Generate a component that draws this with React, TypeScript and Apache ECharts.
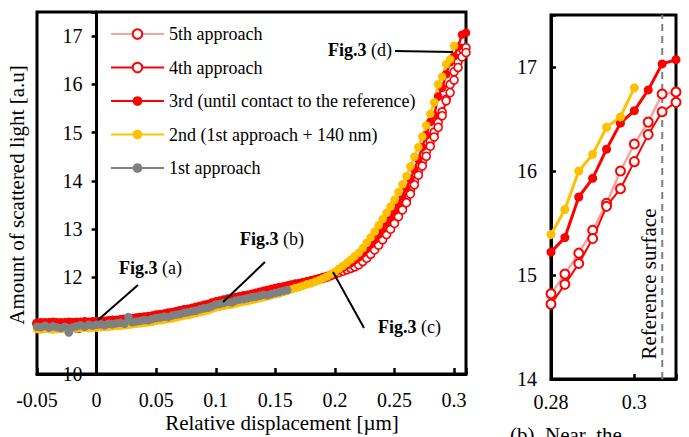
import React, { useEffect, useRef } from "react";
import * as echarts from "echarts";

const FONT = '"Liberation Serif", "Times New Roman", serif';

// Sample grid: x = X_START + i * X_STEP (µm)
const X_START = -0.05;
const X_STEP = 1 / 300;

const legendNames = [
  "5th approach",
  "4th approach",
  "3rd (until contact to the reference)",
  "2nd (1st approach + 140 nm)",
  "1st approach",
];

const mainXTicks = { min: -0.05, max: 0.31, interval: 0.05 };
const mainYTicks = { min: 10, max: 17.5, interval: 1 };
const zoomXTicks = { min: 0.28, max: 0.31, interval: 0.02 };
const zoomYTicks = { min: 14, max: 17.5, interval: 1 };
const referenceSurfaceX = 0.3067;

const approach5 = [
  11.05, 11.06, 11.05, 11.06, 11.07, 11.06, 11.05, 11.06, 11.07, 11.06, 11.07, 11.07, 11.08, 11.07, 11.08, 11.08,
  11.09, 11.09, 11.10, 11.11, 11.11, 11.12, 11.13, 11.14, 11.15, 11.16, 11.17, 11.18, 11.19, 11.20, 11.22,
  11.23, 11.24, 11.26, 11.27, 11.29, 11.31, 11.33, 11.34, 11.36, 11.38, 11.40, 11.42, 11.44, 11.47, 11.49,
  11.51, 11.53, 11.55, 11.56, 11.58, 11.60, 11.62, 11.63, 11.65, 11.67, 11.69, 11.71, 11.73, 11.75, 11.77,
  11.79, 11.80, 11.82, 11.84, 11.86, 11.87, 11.89, 11.91, 11.93, 11.95, 11.97, 11.99, 12.02, 12.05, 12.08,
  12.11, 12.14, 12.18, 12.22, 12.26, 12.30, 12.37, 12.45, 12.53, 12.62, 12.72, 12.82, 12.94, 13.06, 13.18,
  13.32, 13.47, 13.62, 13.81, 14.00, 14.20, 14.40, 14.61, 14.82,
  15.01, 15.21, 15.43, 15.69, 16.00, 16.26, 16.47, 16.74, 16.76,
];

const approach4 = [
  11.04, 11.05, 11.04, 11.05, 11.06, 11.05, 11.04, 11.05, 11.06, 11.05, 11.06, 11.06, 11.07, 11.06, 11.07, 11.07,
  11.08, 11.08, 11.09, 11.10, 11.10, 11.11, 11.12, 11.13, 11.14, 11.15, 11.16, 11.17, 11.18, 11.19, 11.21,
  11.22, 11.23, 11.25, 11.26, 11.28, 11.30, 11.32, 11.33, 11.35, 11.37, 11.39, 11.41, 11.43, 11.46, 11.48,
  11.50, 11.52, 11.54, 11.55, 11.57, 11.59, 11.61, 11.62, 11.64, 11.66, 11.68, 11.70, 11.72, 11.74, 11.76,
  11.78, 11.79, 11.81, 11.83, 11.85, 11.86, 11.88, 11.90, 11.92, 11.94, 11.96, 11.98, 12.01, 12.04, 12.07,
  12.10, 12.13, 12.16, 12.19, 12.22, 12.26, 12.33, 12.40, 12.48, 12.57, 12.67, 12.78, 12.89, 13.00, 13.12,
  13.26, 13.40, 13.55, 13.73, 13.92, 14.12, 14.31, 14.51, 14.72,
  14.91, 15.11, 15.35, 15.66, 15.83, 16.09, 16.35, 16.57, 16.66,
];

const approach3 = [
  11.06, 11.05, 11.07, 11.06, 11.05, 11.06, 11.07, 11.06, 11.06, 11.07, 11.06, 11.07, 11.08, 11.07, 11.08, 11.08,
  11.09, 11.09, 11.10, 11.11, 11.11, 11.12, 11.13, 11.14, 11.15, 11.16, 11.17, 11.18, 11.19, 11.20, 11.22,
  11.23, 11.24, 11.26, 11.27, 11.29, 11.31, 11.33, 11.34, 11.36, 11.38, 11.40, 11.42, 11.44, 11.47, 11.50,
  11.51, 11.53, 11.55, 11.57, 11.58, 11.60, 11.62, 11.63, 11.65, 11.67, 11.69, 11.71, 11.73, 11.76, 11.78,
  11.79, 11.81, 11.83, 11.84, 11.86, 11.88, 11.90, 11.92, 11.94, 11.96, 11.98, 12.01, 12.03, 12.06, 12.10,
  12.15, 12.20, 12.25, 12.30, 12.36, 12.42, 12.50, 12.59, 12.68, 12.78, 12.89, 13.00, 13.12, 13.25, 13.38,
  13.53, 13.69, 13.85, 14.04, 14.24, 14.45, 14.70, 14.95, 15.22,
  15.36, 15.75, 15.93, 16.21, 16.46, 16.58, 16.78, 17.03, 17.07,
];

const approach2 = [
  10.93, 10.92, 10.94, 10.93, 10.92, 10.93, 10.94, 10.93, 10.94, 10.95, 10.94, 10.95, 10.96, 10.95, 10.96, 10.96,
  10.97, 10.97, 10.98, 10.99, 11.00, 11.00, 11.01, 11.02, 11.03, 11.04, 11.05, 11.06, 11.07, 11.08, 11.10,
  11.11, 11.12, 11.14, 11.15, 11.17, 11.19, 11.21, 11.22, 11.24, 11.26, 11.28, 11.30, 11.32, 11.35, 11.38,
  11.39, 11.41, 11.43, 11.44, 11.46, 11.48, 11.50, 11.51, 11.53, 11.55, 11.57, 11.59, 11.61, 11.63, 11.65,
  11.67, 11.70, 11.72, 11.75, 11.78, 11.80, 11.83, 11.86, 11.88, 11.91, 11.94, 11.98, 12.02, 12.07, 12.12,
  12.18, 12.24, 12.30, 12.37, 12.44, 12.51, 12.61, 12.72, 12.83, 12.95, 13.08, 13.21, 13.34, 13.47, 13.61,
  13.77, 13.93, 14.10, 14.30, 14.50, 14.70, 14.92, 15.15, 15.39,
  15.63, 16.00, 16.16, 16.42, 16.52, 16.80,
];

const approach1 = [
  10.98, 10.97, 11.00, 10.96, 10.99, 10.97, 10.95, 10.98, 10.86, 10.97, 10.99, 11.01, 10.98, 11.02, 11.00, 11.02,
  11.03, 11.01, 11.04, 11.03, 11.05, 11.06, 11.04, 11.18, 11.07, 11.09, 11.10, 11.12, 11.11, 11.14, 11.16,
  11.17, 11.19, 11.18, 11.21, 11.23, 11.24, 11.27, 11.28, 11.30, 11.31, 11.34, 11.36, 11.37, 11.40, 11.44,
  11.45, 11.47, 11.50, 11.48, 11.52, 11.54, 11.55, 11.57, 11.59, 11.60, 11.62, 11.64, 11.63, 11.66, 11.68,
  11.70, 11.72, 11.74,
];

const toPairs = (vals: number[]) => vals.map((v, i) => [X_START + i * X_STEP, v]);

type Style = {
  name: string;
  data: number[];
  lineColor: string;
  lineWidth: number;
  open: boolean;
  markerColor: string;
};

// drawing order: 5th at the bottom ... 1st on top
const styles: Style[] = [
  { name: legendNames[0], data: approach5, lineColor: "#F7A3A3", lineWidth: 2.5, open: true, markerColor: "#FF0000" },
  { name: legendNames[1], data: approach4, lineColor: "#FF0000", lineWidth: 2, open: true, markerColor: "#FF0000" },
  { name: legendNames[2], data: approach3, lineColor: "#FF0000", lineWidth: 3, open: false, markerColor: "#FF0000" },
  { name: legendNames[3], data: approach2, lineColor: "#FFC000", lineWidth: 3, open: false, markerColor: "#FFC000" },
  { name: legendNames[4], data: approach1, lineColor: "#808080", lineWidth: 3, open: false, markerColor: "#808080" },
];

function makeSeries(s: Style, axis: number, big: boolean) {
  return {
    type: "line",
    name: s.name,
    xAxisIndex: axis,
    yAxisIndex: axis,
    data: toPairs(s.data),
    symbol: "circle",
    symbolSize: big ? 9 : s.open ? 8 : 8.5,
    showSymbol: true,
    clip: true,
    silent: true,
    lineStyle: { color: s.lineColor, width: big ? s.lineWidth : Math.max(2, s.lineWidth - 0.5) },
    itemStyle: s.open
      ? { color: "#FFFFFF", borderColor: s.markerColor, borderWidth: big ? 2 : 1.6 }
      : { color: s.markerColor, borderColor: s.markerColor, borderWidth: 0 },
    emphasis: { disabled: true },
  };
}

const isMultiple = (v: number, step: number) => Math.abs(v / step - Math.round(v / step)) < 1e-6;

function axisLabelFmt(step: number) {
  return (v: number) => (isMultiple(v, step) ? String(+v.toFixed(2)) : "");
}

const annText = (text: string, x: number, y: number) => ({
  type: "text",
  x,
  y,
  z: 100,
  style: {
    text,
    fontSize: 18,
    fontFamily: FONT,
    fill: "#000",
    verticalAlign: "middle",
    align: "left",
    rich: { b: { fontWeight: "bold", fontSize: 18, fontFamily: FONT, fill: "#000" } },
  },
});

const annLine = (x1: number, y1: number, x2: number, y2: number) => ({
  type: "line",
  z: 100,
  shape: { x1, y1, x2, y2 },
  style: { stroke: "#000", lineWidth: 2 },
});

// grid geometry
const MAIN_GRID = { left: 37, top: 12, width: 429, height: 362 };
const ZOOM_GRID = { left: 551, top: 15, width: 125, height: 364 };
// y axis drawn at x = 0 : shift it right from the grid's left edge
const mainYOffset = -((0 - mainXTicks.min) / (mainXTicks.max - mainXTicks.min)) * MAIN_GRID.width;

export default function App() {
  const ref = useRef<HTMLDivElement>(null);

  useEffect(() => {
    if (!ref.current) return;
    const chart = echarts.init(ref.current, null, { renderer: "svg" });

    const axisLineStyle = { color: "#000", width: 3 };
    const tickStyle = { color: "#000", width: 2.5 };
    const labelStyle = { fontSize: 20, color: "#000", fontFamily: FONT };

    const mainSeries = styles.map((s) => makeSeries(s, 0, false));
    const zoomSeries = styles.map((s) => makeSeries(s, 1, true));

    const refLine = {
      type: "line",
      name: "Reference surface",
      xAxisIndex: 1,
      yAxisIndex: 1,
      data: [
        [referenceSurfaceX, zoomYTicks.min],
        [referenceSurfaceX, zoomYTicks.max],
      ],
      symbol: "none",
      silent: true,
      z: 1,
      lineStyle: { color: "#808080", type: [7, 5], width: 2 },
      emphasis: { disabled: true },
    };

    const option: any = {
      animation: false,
      backgroundColor: "#FFFFFF",
      textStyle: { fontFamily: FONT },
      grid: [
        { ...MAIN_GRID, show: true, borderColor: "#000", borderWidth: 3, backgroundColor: "transparent" },
        { ...ZOOM_GRID, show: true, borderColor: "#000", borderWidth: 3, backgroundColor: "transparent" },
      ],
      xAxis: [
        {
          type: "value",
          gridIndex: 0,
          min: mainXTicks.min,
          max: mainXTicks.max,
          interval: mainXTicks.interval,
          axisLine: { show: true, onZero: false, lineStyle: axisLineStyle },
          axisTick: { show: true, inside: true, length: 6, lineStyle: tickStyle },
          axisLabel: { ...labelStyle, margin: 16, formatter: axisLabelFmt(mainXTicks.interval) },
          splitLine: { show: false },
        },
        {
          type: "value",
          gridIndex: 1,
          min: zoomXTicks.min,
          max: zoomXTicks.max,
          interval: zoomXTicks.interval,
          axisLine: { show: true, onZero: false, lineStyle: axisLineStyle },
          axisTick: { show: true, inside: true, length: 5, lineStyle: tickStyle },
          axisLabel: { ...labelStyle, margin: 13, formatter: axisLabelFmt(zoomXTicks.interval) },
          splitLine: { show: false },
        },
      ],
      yAxis: [
        {
          type: "value",
          gridIndex: 0,
          min: mainYTicks.min,
          max: mainYTicks.max,
          interval: mainYTicks.interval,
          offset: mainYOffset,
          axisLine: { show: true, onZero: false, lineStyle: axisLineStyle },
          axisTick: { show: true, inside: false, length: 5, lineStyle: tickStyle },
          axisLabel: { ...labelStyle, margin: 14, formatter: axisLabelFmt(mainYTicks.interval) },
          splitLine: { show: false },
        },
        {
          type: "value",
          gridIndex: 1,
          min: zoomYTicks.min,
          max: zoomYTicks.max,
          interval: zoomYTicks.interval,
          axisLine: { show: true, onZero: false, lineStyle: axisLineStyle },
          axisTick: { show: true, inside: true, length: 5, lineStyle: tickStyle },
          axisLabel: { ...labelStyle, margin: 14, formatter: axisLabelFmt(zoomYTicks.interval) },
          splitLine: { show: false },
        },
      ],
      legend: {
        data: legendNames,
        orient: "vertical",
        left: 110,
        top: 24,
        padding: 0,
        itemWidth: 53,
        itemHeight: 12,
        itemGap: 13.5,
        selectedMode: false,
        textStyle: { fontSize: 18, color: "#000", fontFamily: FONT, lineHeight: 20 },
      },
      series: [refLine, ...mainSeries, ...zoomSeries],
      graphic: [
        {
          type: "text",
          x: 282,
          y: 423,
          z: 100,
          style: { text: "Relative displacement [µm]", fontSize: 21, fontFamily: FONT, fill: "#000", align: "center", verticalAlign: "middle" },
        },
        {
          type: "text",
          x: 17,
          y: 195,
          rotation: Math.PI / 2,
          z: 100,
          style: { text: "Amount of scattered light [a.u]", fontSize: 21, fontFamily: FONT, fill: "#000", align: "center", verticalAlign: "middle" },
        },
        {
          type: "text",
          x: 649,
          y: 284,
          rotation: Math.PI / 2,
          z: 100,
          style: { text: "Reference surface", fontSize: 21, fontFamily: FONT, fill: "#000", align: "center", verticalAlign: "middle" },
        },
        {
          type: "text",
          x: 510,
          y: 424,
          z: 100,
          style: { text: "(b)  Near  the", fontSize: 21, fontFamily: FONT, fill: "#000", align: "left", verticalAlign: "top" },
        },
        annText("{b|Fig.3} (d)", 328, 50),
        annLine(395, 51, 453, 52),
        annText("{b|Fig.3} (b)", 240, 239),
        annLine(265, 262, 223, 302),
        annText("{b|Fig.3} (a)", 119, 268),
        annLine(138, 285, 98, 320),
        annText("{b|Fig.3} (c)", 378, 327),
        annLine(364, 328, 333, 272),
      ],
    };

    chart.setOption(option);
    return () => chart.dispose();
  }, []);

  return (
    <div
      ref={ref}
      style={{ position: "fixed", left: 0, top: 0, width: 689, height: 437, background: "#fff" }}
    />
  );
}
